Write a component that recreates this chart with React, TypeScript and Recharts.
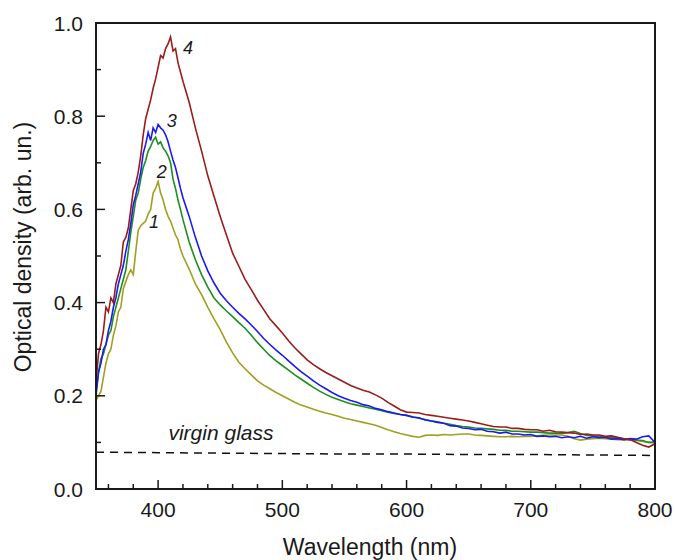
import React from 'react';
import { LineChart, Line, XAxis, YAxis, ReferenceDot, Label } from 'recharts';

const wavelengths = [
  350, 352, 354, 356, 358, 360, 362, 364, 366, 368,
  370, 372, 374, 376, 378, 380, 382, 384, 386, 388,
  390, 392, 394, 396, 398, 400, 402, 404, 406, 408,
  410, 412, 414, 416, 418, 420,
  425, 430, 435, 440, 445, 450, 455, 460, 465, 470,
  475, 480, 485, 490, 495, 500, 505, 510, 515, 520,
  525, 530, 535, 540, 545, 550, 555, 560, 565, 570,
  575, 580, 585, 590, 595, 600, 605, 610, 615, 620,
  625, 630, 635, 640, 645, 650, 655, 660, 665, 670,
  675, 680, 685, 690, 695, 700, 705, 710, 715, 720,
  725, 730, 735, 740, 745, 750, 755, 760, 765, 770,
  775, 780, 785, 790, 795, 800,
];

const od1 = [
  0.19, 0.2, 0.21, 0.24, 0.27, 0.29, 0.3, 0.33, 0.35, 0.38,
  0.39, 0.43, 0.445, 0.46, 0.47, 0.46, 0.51, 0.555, 0.565, 0.57,
  0.575, 0.59, 0.6, 0.635, 0.645, 0.66, 0.635, 0.62, 0.6, 0.585,
  0.575, 0.56, 0.545, 0.535, 0.515, 0.5,
  0.472, 0.44, 0.417, 0.39, 0.365, 0.342, 0.315, 0.292, 0.272, 0.258,
  0.245, 0.232, 0.223, 0.215, 0.207, 0.2, 0.193, 0.186, 0.18, 0.176,
  0.171, 0.167, 0.163, 0.16, 0.156, 0.152, 0.149, 0.146, 0.143, 0.14,
  0.137, 0.132, 0.127, 0.123, 0.119, 0.116, 0.113, 0.111, 0.115, 0.116,
  0.115, 0.117, 0.116, 0.117, 0.118, 0.118, 0.116, 0.115, 0.114, 0.113,
  0.112, 0.112, 0.113, 0.112, 0.113, 0.113, 0.114, 0.115, 0.116, 0.116,
  0.116, 0.113, 0.108, 0.105, 0.107, 0.108, 0.109, 0.108, 0.107, 0.106,
  0.105, 0.105, 0.104, 0.102, 0.1, 0.1,
];

const od2 = [
  0.21, 0.25, 0.28, 0.29, 0.31, 0.33, 0.34, 0.37, 0.39, 0.41,
  0.43, 0.45, 0.47, 0.51, 0.55, 0.585, 0.62, 0.635, 0.665, 0.69,
  0.705, 0.725, 0.735, 0.748, 0.755, 0.74, 0.745, 0.732, 0.725, 0.715,
  0.7, 0.665, 0.645, 0.62, 0.6, 0.578,
  0.53, 0.492, 0.46, 0.433, 0.41, 0.395, 0.382, 0.37, 0.357, 0.345,
  0.33, 0.314, 0.3, 0.286, 0.275, 0.265, 0.255, 0.245, 0.236, 0.227,
  0.218, 0.21, 0.203, 0.197, 0.192, 0.187, 0.183, 0.18, 0.177, 0.174,
  0.171, 0.168, 0.165, 0.162, 0.16, 0.158, 0.155, 0.152, 0.149, 0.146,
  0.144, 0.141, 0.139, 0.136, 0.134, 0.133, 0.131, 0.13, 0.129, 0.128,
  0.126, 0.126, 0.124, 0.124, 0.123, 0.122, 0.122, 0.121, 0.12, 0.12,
  0.119, 0.121, 0.124, 0.119, 0.115, 0.114, 0.113, 0.112, 0.111, 0.11,
  0.108, 0.106, 0.105, 0.104, 0.1, 0.1,
];

const od3 = [
  0.2, 0.25, 0.27, 0.3, 0.31, 0.34, 0.36, 0.39, 0.41, 0.44,
  0.46, 0.48, 0.51, 0.535, 0.57, 0.61, 0.63, 0.655, 0.68, 0.72,
  0.74, 0.765, 0.748, 0.775, 0.765, 0.782, 0.775, 0.77, 0.76, 0.745,
  0.725, 0.706, 0.69, 0.668, 0.645, 0.625,
  0.585, 0.54, 0.5, 0.468, 0.442, 0.42, 0.404, 0.39, 0.377, 0.365,
  0.352, 0.338, 0.323, 0.31, 0.298, 0.287, 0.275, 0.263, 0.252, 0.242,
  0.232, 0.223, 0.215, 0.207, 0.2, 0.195, 0.19, 0.186, 0.181, 0.178,
  0.173, 0.17, 0.166, 0.163, 0.16, 0.158, 0.154, 0.153, 0.148, 0.146,
  0.143, 0.141, 0.136, 0.135, 0.131, 0.13, 0.127, 0.128, 0.124, 0.123,
  0.12, 0.122, 0.118, 0.118, 0.116, 0.117, 0.113, 0.114, 0.112, 0.113,
  0.11, 0.112, 0.11, 0.113, 0.109, 0.112, 0.11, 0.111, 0.107, 0.108,
  0.106, 0.108, 0.107, 0.112, 0.114, 0.1,
];

const od4 = [
  0.23, 0.29, 0.31, 0.34, 0.39, 0.38, 0.41, 0.4, 0.44, 0.46,
  0.48, 0.53, 0.54, 0.56, 0.6, 0.64, 0.655, 0.68, 0.715, 0.76,
  0.795, 0.815, 0.835, 0.86, 0.88, 0.905, 0.93, 0.925, 0.945, 0.955,
  0.97, 0.94, 0.945, 0.915, 0.895, 0.875,
  0.83, 0.775, 0.725, 0.672, 0.628, 0.585, 0.545, 0.506, 0.478, 0.45,
  0.428, 0.405, 0.385, 0.365, 0.35, 0.335, 0.318, 0.303, 0.29, 0.277,
  0.267, 0.258, 0.25, 0.243, 0.236, 0.229, 0.222, 0.217, 0.212, 0.208,
  0.202, 0.195, 0.186, 0.178, 0.17, 0.165, 0.164, 0.163, 0.16, 0.158,
  0.156, 0.154, 0.152, 0.15, 0.148, 0.146, 0.143, 0.14, 0.137, 0.134,
  0.133, 0.133, 0.13, 0.13, 0.128, 0.127, 0.127, 0.124, 0.126, 0.123,
  0.122, 0.121, 0.12, 0.117, 0.118, 0.116, 0.116, 0.113, 0.114, 0.111,
  0.108, 0.106, 0.1, 0.094, 0.09, 0.097,
];

const virginWavelengths = [350, 400, 450, 500, 550, 600, 650, 700, 750, 800];
const virginOd = [0.079, 0.078, 0.077, 0.076, 0.075, 0.075, 0.074, 0.074, 0.073, 0.072];

const xTicks = [360, 380, 400, 420, 440, 460, 480, 500, 520, 540, 560, 580, 600, 620, 640, 660, 680, 700, 720, 740, 760, 780, 800];
const yTicks = [0, 0.1, 0.2, 0.3, 0.4, 0.5, 0.6, 0.7, 0.8, 0.9, 1.0];

const curveLabels = [
  { text: '1', wl: 396.7, od: 0.573 },
  { text: '2', wl: 403, od: 0.68 },
  { text: '3', wl: 411, od: 0.79 },
  { text: '4', wl: 424, od: 0.946 },
];
const glassLabel = { text: 'virgin glass', wl: 450.6, od: 0.12 };

const data = wavelengths.map((wl, i) => ({ wl, s1: od1[i], s2: od2[i], s3: od3[i], s4: od4[i] }));
const virginData = virginWavelengths.map((wl, i) => ({ wl, v: virginOd[i] }));

const FONT = '"Liberation Sans", Arial, Helvetica, sans-serif';
const INK = '#1a1a1a';

const YTick = (props: any) => {
  const { x, y, payload } = props;
  const v = payload.value;
  const major = Math.round(v * 10) % 2 === 0;
  const ax = x + 13;
  return (
    <g>
      <line x1={ax} x2={ax + (major ? 9 : 5)} y1={y} y2={y} stroke={INK} strokeWidth={1.5} />
      {major && (
        <text x={x} y={y} dy="0.36em" textAnchor="end" fontSize={21} fontFamily={FONT} fill={INK}>
          {v.toFixed(1)}
        </text>
      )}
    </g>
  );
};

const XTick = (props: any) => {
  const { x, y, payload } = props;
  const v = payload.value;
  const major = v % 100 === 0;
  const ay = y - 13;
  return (
    <g>
      <line x1={x} x2={x} y1={ay} y2={ay - (major ? 9 : 5)} stroke={INK} strokeWidth={1.5} />
      {major && (
        <text x={x} y={y} dy="0.72em" textAnchor="middle" fontSize={21} fontFamily={FONT} fill={INK}>
          {v}
        </text>
      )}
    </g>
  );
};

const annot = (text: string, size: number) => (p: any) => {
  const vb = p.viewBox || {};
  return (
    <text x={vb.x} y={vb.y} dy="0.35em" textAnchor="middle" fontSize={size} fontStyle="italic" fontFamily={FONT} fill={INK}>
      {text}
    </text>
  );
};

export default function App() {
  return (
    <div style={{ position: 'absolute', left: 0, top: 0, width: 675, height: 560 }}>
      <LineChart width={675} height={560} data={data} margin={{ top: 23, right: 20, left: 0, bottom: 0 }}>
        <XAxis
          dataKey="wl"
          type="number"
          domain={[350, 800]}
          ticks={xTicks}
          interval={0}
          allowDataOverflow
          height={71}
          tickSize={0}
          tickMargin={13}
          tickLine={false}
          axisLine={{ stroke: INK, strokeWidth: 2 }}
          tick={<XTick />}
        >
          <Label
            content={() => (
              <text x={370} y={555} textAnchor="middle" fontSize={23} fontFamily={FONT} fill={INK}>
                Wavelength (nm)
              </text>
            )}
          />
        </XAxis>
        <YAxis
          type="number"
          domain={[0, 1]}
          ticks={yTicks}
          interval={0}
          allowDataOverflow
          width={96}
          tickSize={0}
          tickMargin={13}
          tickLine={false}
          axisLine={{ stroke: INK, strokeWidth: 2 }}
          tick={<YTick />}
        >
          <Label
            content={() => (
              <text
                x={23}
                y={247}
                transform="rotate(-90, 23, 247)"
                textAnchor="middle"
                dominantBaseline="central"
                fontSize={23}
                fontFamily={FONT}
                fill={INK}
              >
                Optical density (arb. un.)
              </text>
            )}
          />
        </YAxis>
        <Line data={virginData} dataKey="v" stroke="#111" strokeWidth={1.5} strokeDasharray="8 6" dot={false} isAnimationActive={false} />
        <Line dataKey="s1" stroke="#a0a020" strokeWidth={1.6} dot={false} isAnimationActive={false} />
        <Line dataKey="s2" stroke="#1e8e1e" strokeWidth={1.6} dot={false} isAnimationActive={false} />
        <Line dataKey="s3" stroke="#1a1af5" strokeWidth={1.6} dot={false} isAnimationActive={false} />
        <Line dataKey="s4" stroke="#9b1c1c" strokeWidth={1.6} dot={false} isAnimationActive={false} />
        {curveLabels.map((c) => (
          <ReferenceDot key={c.text} x={c.wl} y={c.od} r={0} fill="none" stroke="none" label={annot(c.text, 18)} />
        ))}
        <ReferenceDot x={glassLabel.wl} y={glassLabel.od} r={0} fill="none" stroke="none" label={annot(glassLabel.text, 21)} />
      </LineChart>
      <div
        style={{
          position: 'absolute',
          left: 95,
          top: 22,
          width: 561,
          height: 468,
          boxSizing: 'border-box',
          border: `2px solid ${INK}`,
          pointerEvents: 'none',
        }}
      />
    </div>
  );
}
